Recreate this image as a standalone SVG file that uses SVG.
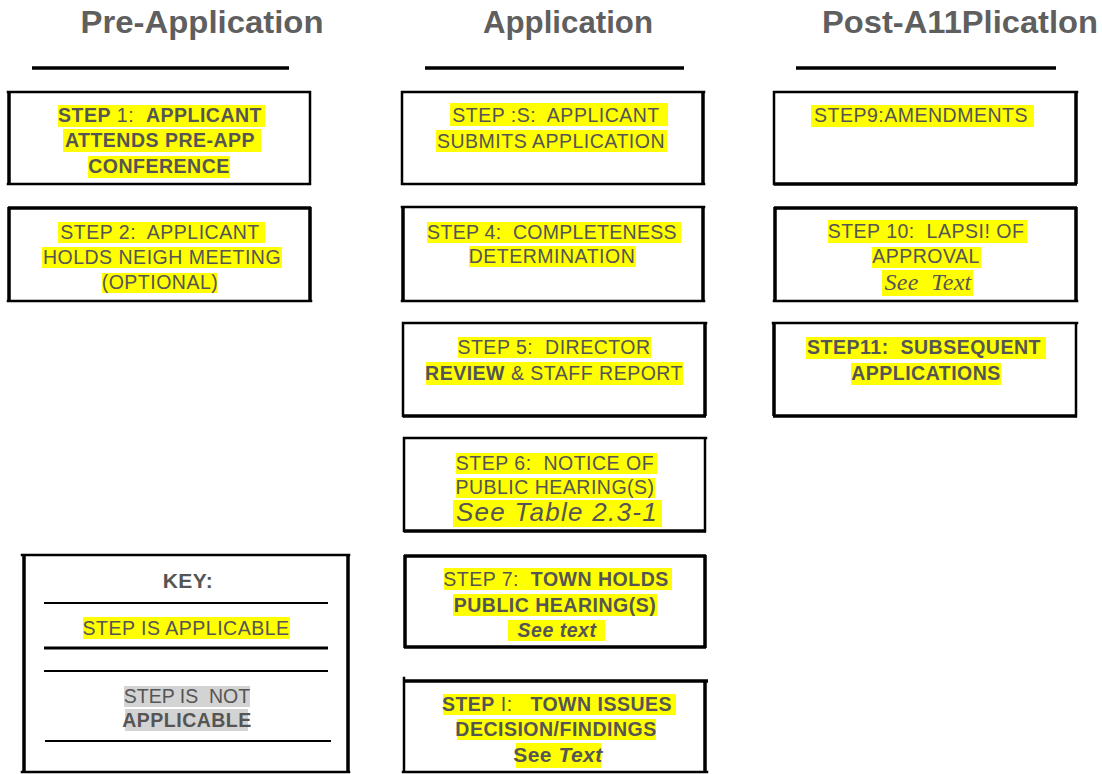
<svg xmlns="http://www.w3.org/2000/svg" width="1102" height="774" viewBox="0 0 1102 774" xml:space="preserve">
<style>
.bg{fill:#ffffff}
.hd{font-family:"Liberation Sans",Arial,sans-serif;font-weight:bold;font-size:31px;fill:#5f5f5f;text-anchor:middle}
.ul{stroke:#000;stroke-width:3.5}
.bx{fill:none;stroke:#000;stroke-width:2.5;stroke-linecap:square}
.tk{fill:none;stroke:#000;stroke-width:3.5}
.hl{fill:#ffff00}
.hg{fill:#d3d3d3}
.t{font-family:"Liberation Sans",Arial,sans-serif;font-size:19.5px;fill:#555555;text-anchor:middle;letter-spacing:0.5px;white-space:pre}
.b{font-weight:bold}
.i{font-style:italic}
.tm{font-family:"Liberation Serif","Times New Roman",serif;font-style:italic;font-size:24px;letter-spacing:0.3px}
.kl{stroke:#000;stroke-width:2}
</style>
<rect class="bg" x="0" y="0" width="1102" height="774"/>
<g id="headers">
<text class="hd" x="202" y="33" textLength="243" lengthAdjust="spacingAndGlyphs">Pre-Application</text>
<text class="hd" x="568" y="33" textLength="170" lengthAdjust="spacingAndGlyphs">Application</text>
<text class="hd" x="960" y="33" textLength="276" lengthAdjust="spacingAndGlyphs">Post-A11Plicatlon</text>
<line class="ul" x1="32" y1="68" x2="289" y2="68"/>
<line class="ul" x1="425" y1="68" x2="684" y2="68"/>
<line class="ul" x1="796" y1="68" x2="1056" y2="68"/>
</g>
<g id="connectors"></g>
<g id="step1">
<path class="bx" d="M8 92H310M8 184H310M310 92V184"/>
<path class="tk" d="M9 92V184"/>
<rect class="hl" x="58" y="105" width="207" height="22"/>
<rect class="hl" x="63" y="129" width="198" height="23"/>
<rect class="hl" x="88" y="156" width="142" height="22"/>
<text class="t" x="160" y="122"><tspan class="b">STEP</tspan> 1:  <tspan class="b">APPLICANT</tspan></text>
<text class="t b" x="160" y="147">ATTENDS PRE-APP</text>
<text class="t b" x="159" y="173">CONFERENCE</text>
</g>
<g id="step2">
<path class="bx" d="M8 301H311"/>
<path class="tk" d="M8 208H311M9 207V301M310 207V301"/>
<rect class="hl" x="58" y="222" width="207" height="21"/>
<rect class="hl" x="42" y="247" width="240" height="21"/>
<rect class="hl" x="102" y="273" width="115" height="20"/>
<text class="t" x="160" y="239">STEP 2:  APPLICANT</text>
<text class="t" x="162" y="264">HOLDS NEIGH MEETING</text>
<text class="t" x="160" y="289">(OPTIONAL)</text>
</g>
<g id="step3">
<path class="bx" d="M402 92H704M402 184H704M402 92V184"/>
<path class="tk" d="M703 92V184"/>
<rect class="hl" x="450" y="103" width="218" height="23"/>
<rect class="hl" x="436" y="130" width="231" height="22"/>
<text class="t" x="556" y="122">STEP :S:  APPLICANT</text>
<text class="t" x="551" y="148">SUBMITS APPLICATION</text>
</g>
<g id="step4">
<path class="bx" d="M402 207H704M402 301H704"/>
<path class="tk" d="M403 207V301M703 207V301"/>
<rect class="hl" x="427" y="222" width="254" height="21"/>
<rect class="hl" x="469" y="246" width="167" height="21"/>
<text class="t" x="552" y="239" style="letter-spacing:0.3px">STEP 4:  COMPLETENESS</text>
<text class="t" x="552" y="263">DETERMINATION</text>
</g>
<g id="step5">
<path class="bx" d="M403 323H706M403 323V416"/>
<path class="tk" d="M403 416H706M705 323V416"/>
<rect class="hl" x="458" y="337" width="193" height="21"/>
<rect class="hl" x="426" y="362" width="257" height="23"/>
<text class="t" x="554" y="354">STEP 5:  DIRECTOR</text>
<text class="t" x="554" y="380"><tspan class="b">REVIEW</tspan> &amp; STAFF REPORT</text>
</g>
<g id="step6">
<path class="bx" d="M404 438H706M705 438V531M404 438V531"/>
<path class="tk" d="M404 531H706"/>
<rect class="hl" x="456" y="453" width="201" height="21"/>
<rect class="hl" x="456" y="478" width="199" height="20"/>
<rect class="hl" x="453" y="500" width="209" height="27"/>
<text class="t" x="555" y="470">STEP 6:  NOTICE OF</text>
<text class="t" x="555" y="494">PUBLIC HEARING(S)</text>
<text class="t i" x="557" y="521" style="font-size:26px;letter-spacing:1.3px">See Table 2.3-1</text>
</g>
<g id="step7">
<path class="tk" d="M404 556H706M404 647H706M405 555V648M705 555V648"/>
<rect class="hl" x="444" y="568" width="228" height="22"/>
<rect class="hl" x="453" y="594" width="204" height="22"/>
<rect class="hl" x="508" y="620" width="97" height="21"/>
<text class="t" x="556" y="586">STEP 7:  <tspan class="b">TOWN HOLDS</tspan></text>
<text class="t b" x="555" y="612">PUBLIC HEARING(S)</text>
<text class="t b i" x="557" y="637">See text</text>
</g>
<g id="step8">
<path class="tk" d="M403 681H708M705 680V772"/>
<path class="bx" d="M404 678V772M403 772H707"/>
<rect class="hl" x="443" y="694" width="233" height="21"/>
<rect class="hl" x="457" y="719" width="199" height="21"/>
<rect class="hl" x="516" y="743" width="85" height="25"/>
<text class="t" x="557" y="711"><tspan class="b">STEP</tspan> I:   <tspan class="b">TOWN ISSUES</tspan></text>
<text class="t b" x="556" y="736">DECISION/FINDINGS</text>
<text class="t b" x="558" y="762" style="font-size:21px">See <tspan class="i">Text</tspan></text>
</g>
<g id="step9">
<path class="bx" d="M774 92H1077M774 92V184"/>
<path class="tk" d="M774 184H1077M1076 92V184"/>
<rect class="hl" x="811" y="105" width="223" height="22"/>
<text class="t" x="921" y="122">STEP9:AMENDMENTS</text>
</g>
<g id="step10">
<path class="bx" d="M774 301H1077"/>
<path class="tk" d="M774 208H1077M775 207V301M1076 207V301"/>
<rect class="hl" x="828" y="220" width="199" height="23"/>
<rect class="hl" x="872" y="247" width="109" height="21"/>
<rect class="hl" x="882" y="270" width="91" height="26"/>
<text class="t" x="926" y="238">STEP 10:  LAPSI! OF</text>
<text class="t" x="926" y="263">APPROVAL</text>
<text class="t tm" x="928" y="290">See  Text</text>
</g>
<g id="step11">
<path class="bx" d="M773 323H1077M1076 323V416"/>
<path class="tk" d="M773 416H1077M774 323V416"/>
<rect class="hl" x="806" y="337" width="240" height="22"/>
<rect class="hl" x="851" y="363" width="150" height="22"/>
<text class="t b" x="924" y="354">STEP11:  SUBSEQUENT</text>
<text class="t b" x="926" y="380">APPLICATIONS</text>
</g>
<g id="key">
<path class="bx" d="M22 555H349M22 772H349"/>
<path class="tk" d="M24 555V772M348 555V772"/>
<text class="t b" x="188" y="588" style="font-size:21px">KEY:</text>
<line class="kl" x1="44" y1="603" x2="328" y2="603"/>
<rect class="hl" x="83" y="617" width="207" height="22"/>
<text class="t" x="186" y="635">STEP IS APPLICABLE</text>
<line class="kl" x1="44" y1="648" x2="328" y2="648" style="stroke-width:3"/>
<line class="kl" x1="44" y1="671" x2="328" y2="671"/>
<rect class="hg" x="124" y="686" width="126" height="21"/>
<rect class="hg" x="125" y="709" width="123" height="22"/>
<text class="t" x="187" y="703" style="letter-spacing:0px">STEP IS  NOT</text>
<text class="t b" x="187" y="727">APPLICABLE</text>
<line class="kl" x1="45" y1="741" x2="331" y2="741"/>
</g>
</svg>
